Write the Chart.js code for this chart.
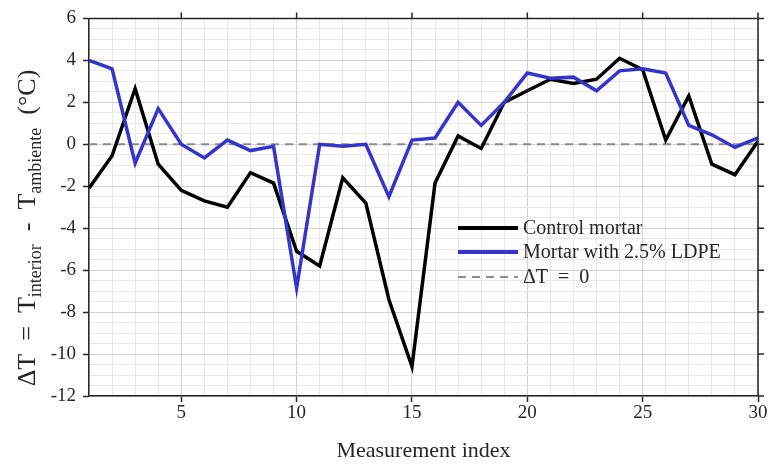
<!DOCTYPE html>
<html>
<head>
<meta charset="utf-8">
<script src="https://cdn.jsdelivr.net/npm/chart.js@4.4.0/dist/chart.umd.min.js"></script>
<style>
  html, body { margin: 0; padding: 0; background: #ffffff; }
  #wrap { width: 769px; height: 464px; }
</style>
</head>
<body>
<div id="wrap"><canvas id="deltaChart" width="769" height="464"></canvas></div>
<script>
// Dữ liệu
const indices = [1, 2, 3, 4, 5, 6, 7, 8, 9, 10, 11, 12, 13, 14, 15, 16, 17, 18, 19, 20, 21, 22, 23, 24, 25, 26, 27, 28, 29, 30];
const controlMortar = [-2.1, -0.55, 2.65, -0.95, -2.2, -2.7, -3.0, -1.35, -1.85, -5.1, -5.8, -1.6, -2.8, -7.4, -10.6, -1.85, 0.4, -0.2, 2.0, 2.55, 3.1, 2.9, 3.1, 4.1, 3.55, 0.2, 2.3, -0.95, -1.45, 0.15];
const ldpeMortar = [4.0, 3.6, -0.9, 1.7, 0.0, -0.65, 0.2, -0.3, -0.1, -6.85, 0.0, -0.1, 0.0, -2.5, 0.2, 0.3, 2.0, 0.9, 2.0, 3.4, 3.15, 3.2, 2.55, 3.5, 3.6, 3.4, 0.9, 0.45, -0.15, 0.3];
const zeroLineX = [1, 30];
const zeroLineY = [0, 0];
const xTickLabels = [5, 10, 15, 20, 25, 30];
const yTickLabels = [-12, -10, -8, -6, -4, -2, 0, 2, 4, 6];

const serif = '"Liberation Serif", "DejaVu Serif", serif';
const inkColor = '#262626';

function toPoints(xs, ys) {
    return xs.map((x, i) => ({ x: x, y: ys[i] }));
}

// Khung trên/phải với vạch chia
const frameTicks = {
    id: 'frameTicks',
    afterDraw(chart) {
        const { ctx, chartArea, scales } = chart;
        ctx.save();
        ctx.strokeStyle = inkColor;
        ctx.lineWidth = 1.5;
        ctx.beginPath();
        ctx.moveTo(chartArea.left, chartArea.top);
        ctx.lineTo(chartArea.right, chartArea.top);
        ctx.lineTo(chartArea.right, chartArea.bottom);
        ctx.stroke();
        ctx.beginPath();
        xTickLabels.forEach(v => {
            const px = scales.x.getPixelForValue(v);
            ctx.moveTo(px, chartArea.top);
            ctx.lineTo(px, chartArea.top - 6);
        });
        yTickLabels.forEach(v => {
            const py = scales.y.getPixelForValue(v);
            ctx.moveTo(chartArea.right, py);
            ctx.lineTo(chartArea.right + 6, py);
        });
        ctx.stroke();
        ctx.restore();
    }
};

// Nhãn trục y có chỉ số dưới
const yTitle = {
    id: 'yTitle',
    afterDraw(chart) {
        const { ctx } = chart;
        const mainFont = '26px ' + serif;
        const subFont = '18px ' + serif;
        const parts = [
            ['\u0394T  =  T', mainFont, 0],
            ['interior', subFont, 6],
            ['  -  T', mainFont, 0],
            ['ambiente', subFont, 6],
            ['  (\u00B0C)', mainFont, 0]
        ];
        ctx.save();
        let total = 0;
        parts.forEach(p => { ctx.font = p[1]; total += ctx.measureText(p[0]).width; });
        ctx.translate(35, 228);
        ctx.rotate(-Math.PI / 2);
        ctx.fillStyle = inkColor;
        ctx.textBaseline = 'alphabetic';
        let x = -total / 2;
        parts.forEach(p => {
            ctx.font = p[1];
            ctx.fillText(p[0], x, p[2]);
            x += ctx.measureText(p[0]).width;
        });
        ctx.restore();
    }
};

// Chú giải bên trong vùng vẽ
const innerLegend = {
    id: 'innerLegend',
    afterDraw(chart) {
        const { ctx } = chart;
        const x0 = 458, x1 = 518, textX = 523;
        const rows = [228, 252, 277];
        ctx.save();
        ctx.font = '20px ' + serif;
        ctx.textBaseline = 'middle';
        chart.data.datasets.forEach((ds, i) => {
            const y = rows[i];
            ctx.strokeStyle = ds.borderColor;
            ctx.lineWidth = ds.borderDash ? 2 : 4;
            ctx.setLineDash(ds.borderDash || []);
            ctx.beginPath();
            ctx.moveTo(x0, y);
            ctx.lineTo(x1, y);
            ctx.stroke();
            ctx.setLineDash([]);
            ctx.fillStyle = inkColor;
            ctx.fillText(ds.label, textX, y + 1);
        });
        ctx.restore();
    }
};

const ctxDelta = document.getElementById('deltaChart').getContext('2d');
const deltaChart = new Chart(ctxDelta, {
    type: 'line',
    data: {
        datasets: [{
            label: 'Control mortar',
            data: toPoints(indices, controlMortar),
            borderColor: '#000000',
            borderWidth: 3.5,
            pointRadius: 0,
            tension: 0,
            order: 2
        }, {
            label: 'Mortar with 2.5% LDPE',
            data: toPoints(indices, ldpeMortar),
            borderColor: '#3535cc',
            borderWidth: 3.5,
            pointRadius: 0,
            tension: 0,
            order: 1
        }, {
            label: '\u0394T  =  0',
            data: toPoints(zeroLineX, zeroLineY),
            borderColor: '#8c8c8c',
            borderWidth: 2,
            borderDash: [8, 6],
            pointRadius: 0,
            order: 3
        }]
    },
    options: {
        responsive: false,
        animation: false,
        layout: { padding: { top: 17, right: 11, left: 0, bottom: 0 } },
        plugins: {
            legend: { display: false },
            tooltip: { enabled: false }
        },
        scales: {
            x: {
                type: 'linear',
                min: 1,
                max: 30,
                afterFit: function(scale) { scale.height = 68; },
                border: { color: inkColor, width: 1.5 },
                grid: {
                    color: c => (c.tick && xTickLabels.includes(c.tick.value)) ? '#d2d2d2' : '#e8e8e8',
                    tickColor: c => (c.tick && xTickLabels.includes(c.tick.value)) ? inkColor : 'rgba(0,0,0,0)',
                    tickLength: 6,
                    tickWidth: 1.5
                },
                ticks: {
                    stepSize: 1,
                    autoSkip: false,
                    maxRotation: 0,
                    minRotation: 0,
                    padding: 0,
                    color: inkColor,
                    font: { family: serif, size: 19 },
                    callback: v => xTickLabels.includes(v) ? String(v) : ''
                },
                title: {
                    display: true,
                    text: 'Measurement index',
                    color: inkColor,
                    font: { family: serif, size: 22 },
                    padding: { top: 0, bottom: 0 }
                }
            },
            y: {
                min: -12,
                max: 6,
                afterFit: function(scale) { scale.width = 89; },
                border: { color: inkColor, width: 1.5 },
                grid: {
                    color: c => (c.tick && yTickLabels.includes(c.tick.value)) ? '#d2d2d2' : '#e8e8e8',
                    tickColor: c => (c.tick && yTickLabels.includes(c.tick.value)) ? inkColor : 'rgba(0,0,0,0)',
                    tickLength: 6,
                    tickWidth: 1.5
                },
                ticks: {
                    stepSize: 0.5,
                    autoSkip: false,
                    padding: 7,
                    color: inkColor,
                    font: { family: serif, size: 19 },
                    callback: v => yTickLabels.includes(v) ? String(v) : ''
                }
            }
        }
    },
    plugins: [frameTicks, yTitle, innerLegend]
});
</script>
</body>
</html>
